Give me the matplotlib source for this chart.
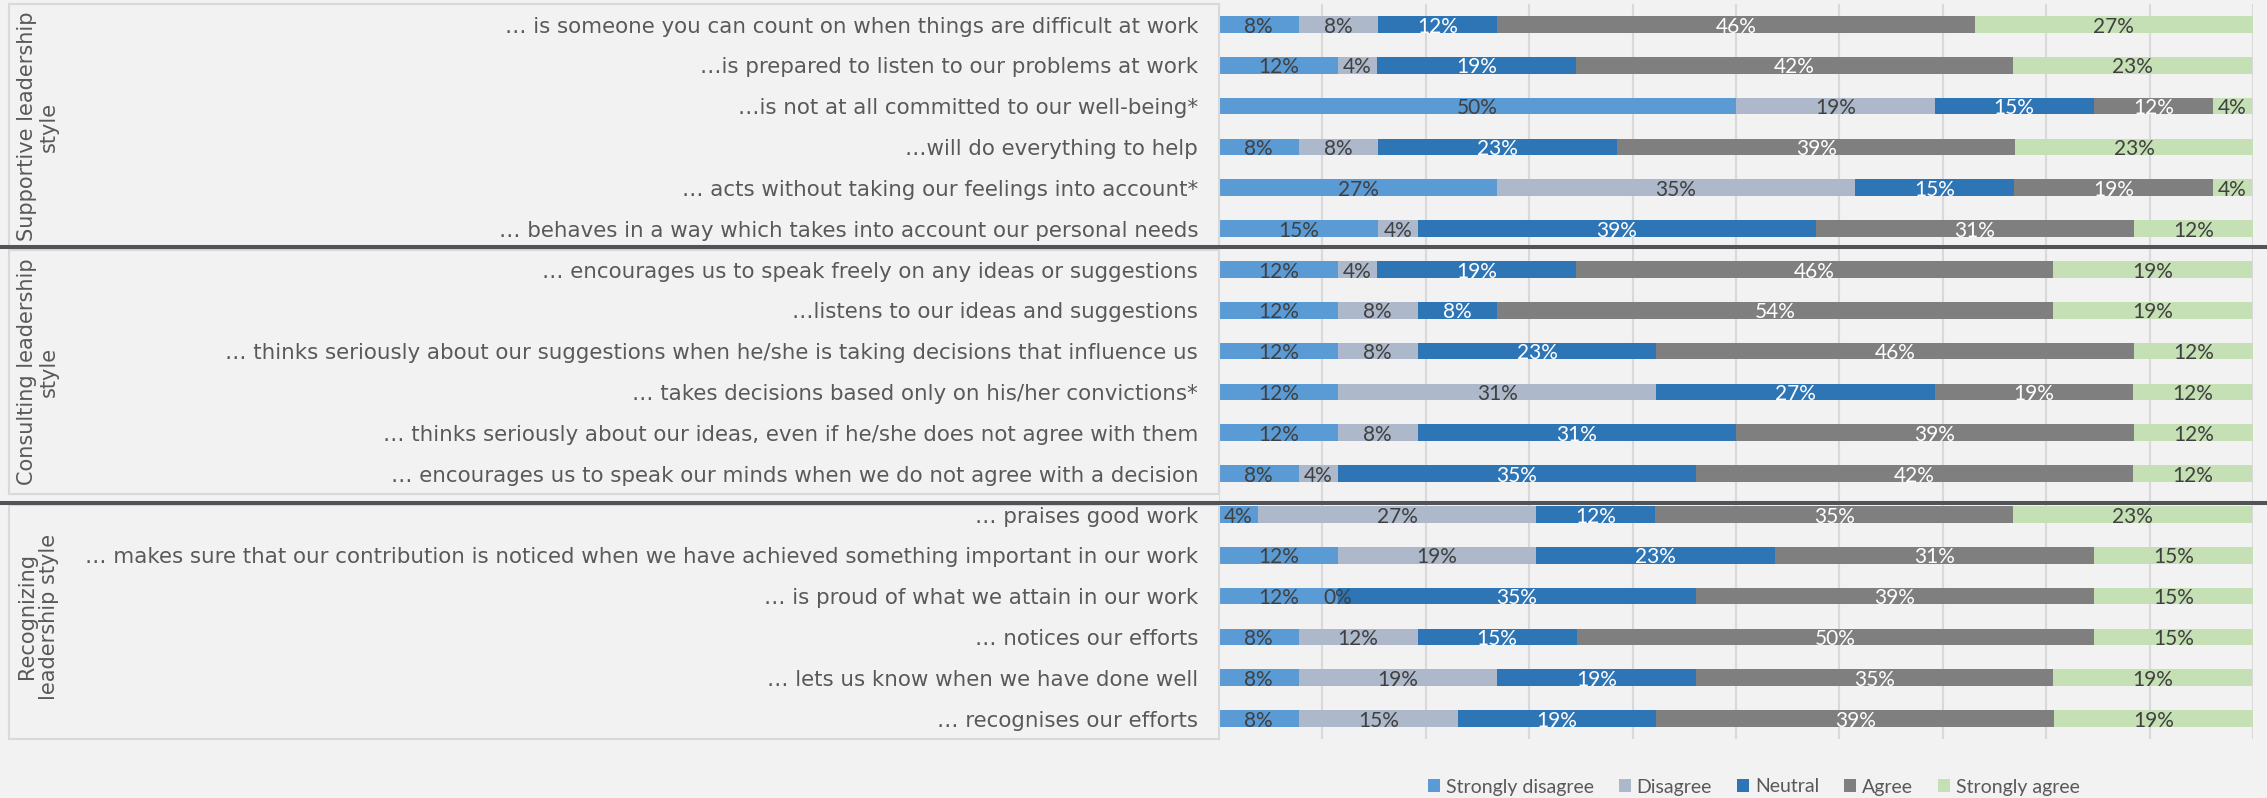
import matplotlib
matplotlib.use("Agg")
import matplotlib.pyplot as plt
import matplotlib.transforms as mtransforms
from matplotlib.patches import Rectangle, Patch
from matplotlib.lines import Line2D
import numpy as np

# ---- data (percent of respondents) ----
groups = ["Supportive leadership\nstyle",
          "Consulting leadership\nstyle",
          "Recognizing\nleadership style"]
group_sizes = [6, 6, 6]

statements = [
    "\u2026 is someone you can count on when things are difficult at work",
    "\u2026is prepared to listen to our problems at work",
    "\u2026is not at all committed to our well-being*",
    "\u2026will do everything to help",
    "\u2026 acts without taking our feelings into account*",
    "\u2026 behaves in a way which takes into account our personal needs",
    "\u2026 encourages us to speak freely on any ideas or suggestions",
    "\u2026listens to our ideas and suggestions",
    "\u2026 thinks seriously about our suggestions when he/she is taking decisions that influence us",
    "\u2026 takes decisions based only on his/her convictions*",
    "\u2026 thinks seriously about our ideas, even if he/she does not agree with them",
    "\u2026 encourages us to speak our minds when we do not agree with a decision",
    "\u2026 praises good work",
    "\u2026 makes sure that our contribution is noticed when we have achieved something important in our work",
    "\u2026 is proud of what we attain in our work",
    "\u2026 notices our efforts",
    "\u2026 lets us know when we have done well",
    "\u2026 recognises our efforts",
]

responses = ["Strongly disagree", "Disagree", "Neutral", "Agree", "Strongly agree"]

strongly_disagree = [7.7, 11.5, 50.0, 7.7, 26.9, 15.4, 11.5, 11.5, 11.5, 11.5, 11.5, 7.7,
                     3.8, 11.5, 11.5, 7.7, 7.7, 7.7]
disagree = [7.7, 3.8, 19.2, 7.7, 34.6, 3.8, 3.8, 7.7, 7.7, 30.8, 7.7, 3.8,
            26.9, 19.2, 0.0, 11.5, 19.2, 15.4]
neutral = [11.5, 19.2, 15.4, 23.1, 15.4, 38.5, 19.2, 7.7, 23.1, 26.9, 30.8, 34.6,
           11.5, 23.1, 34.6, 15.4, 19.2, 19.2]
agree = [46.2, 42.3, 11.5, 38.5, 19.2, 30.8, 46.2, 53.8, 46.2, 19.2, 38.5, 42.3,
         34.6, 30.8, 38.5, 50.0, 34.6, 38.5]
strongly_agree = [26.9, 23.1, 3.8, 23.1, 3.8, 11.5, 19.2, 19.2, 11.5, 11.5, 11.5, 11.5,
                  23.1, 15.4, 15.4, 15.4, 19.2, 19.2]

# ---- style ----
BG = "#F2F2F2"
GRID = "#D9D9D9"
TEXT = "#595959"
DARK = "#404040"
SEP = "#515357"
colors = ["#5B9BD5", "#ADB9CA", "#2E75B6", "#7F7F7F", "#C5E0B4"]
label_colors = [DARK, DARK, "white", "white", DARK]

W, H = 2267, 798
fig = plt.figure(figsize=(W / 100, H / 100), dpi=100, facecolor=BG)
ax = fig.add_axes([1219 / W, 1 - 739 / H, (2253 - 1219) / W, 735 / H])
ax.set_facecolor(BG)

n = len(statements)
ypos = np.arange(n)
series = [strongly_disagree, disagree, neutral, agree, strongly_agree]
left = np.zeros(n)
for vals, col, tcol in zip(series, colors, label_colors):
    vals = np.asarray(vals, dtype=float)
    ax.barh(ypos, vals, left=left, height=0.41, color=col, edgecolor="none", zorder=3)
    for yi, (l0, v) in enumerate(zip(left, vals)):
        ax.text(l0 + v / 2, yi + 0.2, f"{int(v + 0.5)}%", ha="center", va="baseline",
                fontsize=15, family="Lato", color=tcol, zorder=4)
    left += vals

ax.set_xlim(0, 100)
ax.set_ylim(n - 0.5, -0.5)
ax.set_xticks(np.arange(0, 101, 10))
ax.set_yticks([])
ax.grid(axis="x", color=GRID, lw=1.5)
ax.set_axisbelow(True)
ax.tick_params(length=0, labelbottom=False)
for s in ax.spines.values():
    s.set_visible(False)

# statement labels to the left of the bars
ytrans = ax.get_yaxis_transform()
for i, s in enumerate(statements):
    ax.annotate(s, xy=(0, i + 0.2), xycoords=ytrans, xytext=(-15, 0),
                textcoords="offset points", ha="right", va="baseline",
                fontsize=15.4, family="DejaVu Sans", color=TEXT, annotation_clip=False)

# group panels, labels and dividers
trans = mtransforms.blended_transform_factory(fig.transFigure, ax.transData)
cells = [(-0.51, 5.42), (5.53, 11.49), (11.76, 17.49)]
x0, x1 = 9 / W, 1219 / W
for (top, bot) in cells:
    fig.add_artist(Rectangle((x0, top), x1 - x0, bot - top, transform=trans,
                             facecolor="none", edgecolor=GRID, lw=1.5, zorder=1))

start = 0
for g, size in zip(groups, group_sizes):
    centre = start + (size - 1) / 2
    fig.text(38 / W, centre, g, transform=trans, rotation=90, ha="center", va="center",
             multialignment="center", fontsize=15, family="DejaVu Sans", color=TEXT,
             linespacing=1.15)
    start += size

for yline in (5.45, 11.73):
    fig.add_artist(Line2D([0, 1], [yline, yline], transform=trans, color=SEP, lw=2.9,
                          zorder=5))

handles = [Patch(facecolor=c, edgecolor="none", label=r) for c, r in zip(colors, responses)]
fig.legend(handles=handles, loc="center", bbox_to_anchor=(1754 / W, 1 - 787 / H),
           ncol=5, frameon=False, handlelength=0.6, handleheight=0.6,
           handletextpad=0.3, columnspacing=1.3, prop={"family": "Lato", "size": 14},
           labelcolor=TEXT)

fig.savefig("out.png", dpi=100, facecolor=BG)
